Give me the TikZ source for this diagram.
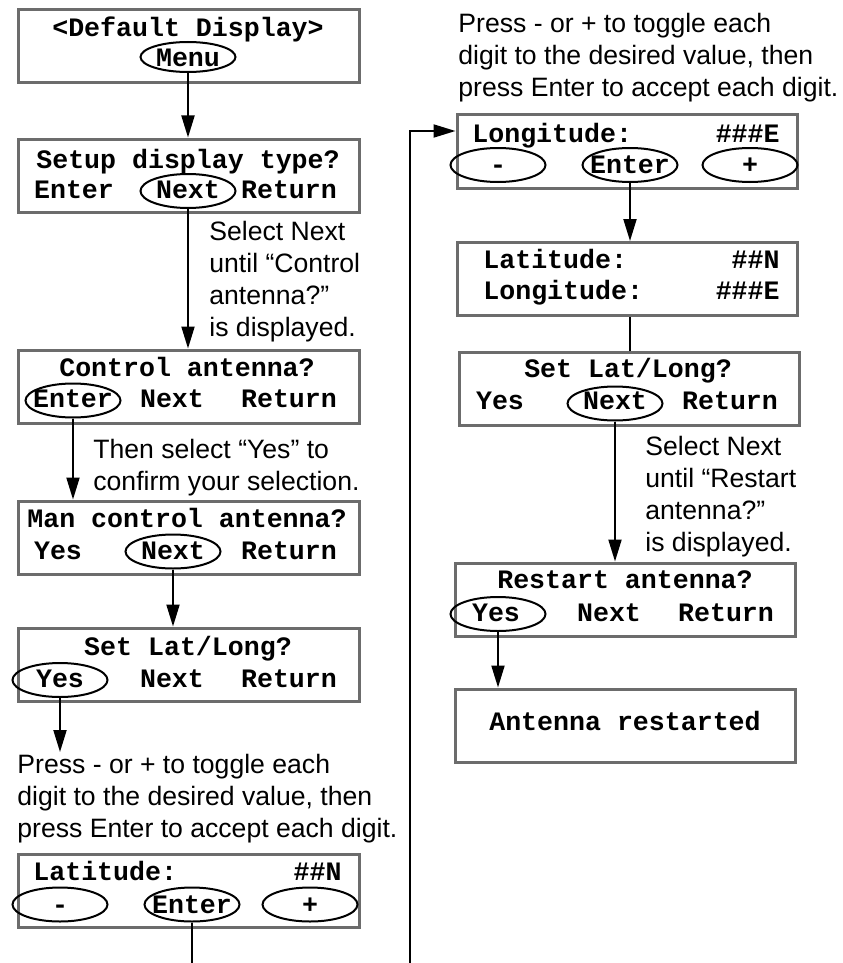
\documentclass[tikz,border=0pt]{standalone}
\usepackage{fontspec}
\setmainfont{Liberation Sans}
\setmonofont{Liberation Mono}
\usetikzlibrary{shapes.geometric,arrows.meta}
\definecolor{boxgray}{RGB}{108,108,108}

\tikzset{
  lcd/.style={draw=boxgray, line width=1.5pt, minimum width=170.5pt, minimum height=36.5pt, inner sep=0pt},
  key/.style={draw, ellipse, line width=1pt, minimum width=47.5pt, minimum height=17pt, inner sep=0pt},
  mono/.style={font=\fontsize{13.3}{16}\selectfont\ttfamily\bfseries, inner sep=0pt, anchor=base},
  note/.style={font=\fontsize{13.3}{16}\selectfont, inner sep=0pt, anchor=base west},
  arr/.style={line width=1pt, -{Triangle[length=11pt,width=6.5pt]}},
  wire/.style={line width=1pt}
}

\begin{document}
\begin{tikzpicture}[x=0.5pt,y=-0.5pt]
\useasboundingbox (0,0) rectangle (842,963);
% left column displays
\node[lcd] (disp) at (188.5,46) {};
\node[lcd] (setup) at (188.5,175.5) {};
\node[lcd] (ctrl) at (188.5,386.5) {};
\node[lcd] (man) at (188.5,537.5) {};
\node[lcd] (setll) at (188.5,664.5) {};
\node[lcd] (lat) at (188.5,890.5) {};
% right column displays
\node[lcd, minimum width=170pt] (lon) at (627,151.5) {};
\node[lcd, minimum width=170pt] (latlon) at (627.5,279) {};
\node[lcd, minimum width=170pt] (setll2) at (629,388.5) {};
\node[lcd, minimum width=170pt] (restart) at (625,599.5) {};
\node[lcd, minimum width=170pt] (done) at (625,725.5) {};

% keys
\node[key, minimum height=15pt] (menu) at (188,57) {};
\node[key] (next1) at (188,191) {};
\node[key] (enter1) at (73,400.5) {};
\node[key] (next2) at (173,551.5) {};
\node[key] (yes1) at (60,680) {};
\node[key] (minus1) at (60,904.5) {};
\node[key] (enter2) at (192,904.5) {};
\node[key] (plus1) at (310,904.5) {};
\node[key] (minus2) at (498,165) {};
\node[key] (enter3) at (630,165) {};
\node[key] (plus2) at (750,165) {};
\node[key] (next3) at (615,403.5) {};
\node[key] (yes2) at (498,614) {};

% display texts
\node[mono] (d1) at (188,37) {<Default Display>};
\node[mono] (d2) at (188,67) {Menu};
\node[mono] (s1) at (188,168) {Setup display type?};
\node[mono] (s2) at (74,198) {Enter};
\node[mono] (s3) at (188,198) {Next};
\node[mono] (s4) at (289,198) {Return};
\node[mono] (c1) at (187,376) {Control antenna?};
\node[mono] (c2) at (73,407) {Enter};
\node[mono] (c3) at (172,407) {Next};
\node[mono] (c4) at (289,407) {Return};
\node[mono] (m1) at (187,527) {Man control antenna?};
\node[mono] (m2) at (58,559) {Yes};
\node[mono] (m3) at (173,559) {Next};
\node[mono] (m4) at (289,559) {Return};
\node[mono] (l1) at (188,655) {Set Lat/Long?};
\node[mono] (l2) at (60,687) {Yes};
\node[mono] (l3) at (172,687) {Next};
\node[mono] (l4) at (289,687) {Return};
\node[mono, anchor=base west] (a1) at (33,880) {Latitude:};
\node[mono, anchor=base east] (a2) at (342,880) {\#\#N};
\node[mono] (a3) at (60,913) {-};
\node[mono] (a4) at (192,913) {Enter};
\node[mono] (a5) at (310,913) {+};
\node[mono, anchor=base west] (o1) at (472,142) {Longitude:};
\node[mono, anchor=base east] (o2) at (780,142) {\#\#\#E};
\node[mono] (o3) at (498,173) {-};
\node[mono] (o4) at (630,173) {Enter};
\node[mono] (o5) at (750,173) {+};
\node[mono, anchor=base west] (b1) at (483,268) {Latitude:};
\node[mono, anchor=base east] (b2) at (780,268) {\#\#N};
\node[mono, anchor=base west] (b3) at (483,299) {Longitude:};
\node[mono, anchor=base east] (b4) at (780,299) {\#\#\#E};
\node[mono] (q1) at (628,377) {Set Lat/Long?};
\node[mono] (q2) at (500,409) {Yes};
\node[mono] (q3) at (615,409) {Next};
\node[mono] (q4) at (730,409) {Return};
\node[mono] (r1) at (625,588) {Restart antenna?};
\node[mono] (r2) at (496,621) {Yes};
\node[mono] (r3) at (609,621) {Next};
\node[mono] (r4) at (726,621) {Return};
\node[mono] (f1) at (625,730) {Antenna restarted};

% notes
\node[note] (n1) at (209,240) {Select Next};
\node[note] (n2) at (209,272) {until “Control};
\node[note] (n3) at (209,304) {antenna?”};
\node[note] (n4) at (209,336) {is displayed.};
\node[note] (n5) at (93,458) {Then select “Yes” to};
\node[note] (n6) at (93,490) {confirm your selection.};
\node[note] (n7) at (17,773) {Press - or + to toggle each};
\node[note] (n8) at (17,805) {digit to the desired value, then};
\node[note] (n9) at (17,837) {press Enter to accept each digit.};
\node[note] (p1) at (458,33) {Press - or + to toggle each};
\node[note] (p2) at (458,65) {digit to the desired value, then};
\node[note] (p3) at (458,97) {press Enter to accept each digit.};
\node[note] (u1) at (645,455) {Select Next};
\node[note] (u2) at (645,487) {until “Restart};
\node[note] (u3) at (645,519) {antenna?”};
\node[note] (u4) at (645,551) {is displayed.};

% connectors
\draw[arr] (menu.south) -- (menu.south |- setup.north);
\draw[arr] (next1.south) -- (next1.south |- ctrl.north);
\draw[arr] (enter1.south) -- (enter1.south |- man.north);
\draw[arr] (next2.south) -- (next2.south |- setll.north);
\coordinate (prompt) at (60,752);
\draw[arr] (yes1.south) -- (prompt);
\coordinate (offleft) at (192,963);
\draw[wire] (enter2.south) -- (offleft);
\coordinate (offright) at (410,963);
\coordinate (bend) at (410,131);
\draw[arr] (offright) -- (bend) -- (bend -| lon.west);
\draw[arr] (enter3.south) -- (enter3.south |- latlon.north);
\draw[wire] (enter3 |- latlon.south) -- (enter3 |- setll2.north);
\draw[arr] (next3.south) -- (next3.south |- restart.north);
\draw[arr] (yes2.south) -- (yes2.south |- done.north);
\end{tikzpicture}
\end{document}
